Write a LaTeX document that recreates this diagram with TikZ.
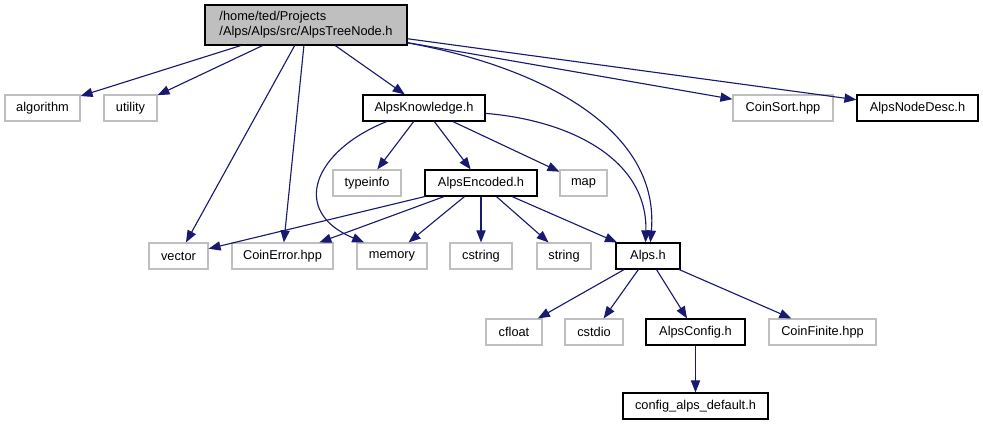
\documentclass[tikz,border=0pt]{standalone}
\usepackage{fontspec}
\setmainfont{Liberation Sans}
\usepackage{tikz}
\usetikzlibrary{arrows.meta}
\definecolor{depblue}{RGB}{25,25,112}
\definecolor{boxgray}{RGB}{191,191,191}
\definecolor{boxink}{RGB}{0,0,0}
\tikzset{
  filebox/.style={
    draw=boxink,
    line width=0.8pt,
    fill=white,
    align=center,
    minimum height=0.65cm,
    inner sep=0pt,
    font=\fontsize{9.1}{10.8}\selectfont,
    text=boxink
  },
  extbox/.style={
    filebox,
    draw=boxgray
  },
  rootbox/.style={
    filebox,
    fill=boxgray,
    align=left,
    minimum height=1cm
  },
  dep/.style={-{Triangle[length=3mm, width=2.3mm]}, line width=0.8pt, draw=depblue}
}

\begin{document}
\begin{tikzpicture}[x=0.025cm,y=-0.025cm]
    \useasboundingbox (0,0) rectangle (983,425);
    \node[rootbox, minimum width=5.05cm] (root) at (306,25) {/home/ted/Projects\\/Alps/Alps/src/AlpsTreeNode.h};
    \node[extbox, minimum width=1.875cm] (algorithm) at (42.5,108) {algorithm};
    \node[extbox, minimum width=1.325cm] (utility) at (130.5,108) {utility};
    \node[filebox, minimum width=3.05cm] (knowledge) at (424,108) {AlpsKnowledge.h};
    \node[extbox, minimum width=2.5cm] (coinsort) at (783,108) {CoinSort.hpp};
    \node[filebox, minimum width=3.025cm] (nodedesc) at (917.5,108) {AlpsNodeDesc.h};
    \node[extbox, minimum width=1.7cm] (typeinfo) at (367,183) {typeinfo};
    \node[filebox, minimum width=2.8cm] (encoded) at (481,183) {AlpsEncoded.h};
    \node[extbox, minimum width=1.175cm] (map) at (583.5,183) {map};
    \node[extbox, minimum width=1.475cm] (vector) at (178.5,256) {vector};
    \node[extbox, minimum width=2.525cm] (coinerror) at (282.5,256) {CoinError.hpp};
    \node[extbox, minimum width=1.75cm] (memory) at (392,256) {memory};
    \node[extbox, minimum width=1.55cm] (cstring) at (481,256) {cstring};
    \node[extbox, minimum width=1.35cm] (string) at (564,256) {string};
    \node[filebox, minimum width=1.6cm] (alps) at (648,256) {Alps.h};
    \node[extbox, minimum width=1.4cm] (cfloat) at (514,332) {cfloat};
    \node[extbox, minimum width=1.45cm] (cstdio) at (594,332) {cstdio};
    \node[filebox, minimum width=2.475cm] (config) at (695.5,332) {AlpsConfig.h};
    \node[extbox, minimum width=2.675cm] (coinfinite) at (822.5,332) {CoinFinite.hpp};
    \node[filebox, minimum width=3.625cm] (configdefault) at (695.5,406) {config\_alps\_default.h};

    \draw[dep] (root) -- (algorithm);
    \draw[dep] (root) -- (utility);
    \draw[dep] (root) -- (vector);
    \draw[dep] (root) -- (coinerror);
    \draw[dep] (root) -- (knowledge);
    \draw[dep] (root) -- (coinsort);
    \draw[dep] (root) -- (nodedesc);
    \draw[dep] (root.-10) .. controls +(123,22) and +(10,-118) .. (alps.80);

    \draw[dep] (knowledge.-160) .. controls +(-73,29) and +(-75,-31) .. (memory.154);
    \draw[dep] (knowledge) -- (typeinfo);
    \draw[dep] (knowledge) -- (encoded);
    \draw[dep] (knowledge) -- (map);
    \draw[dep] (knowledge.-5) .. controls +(85,7) and +(2,-83) .. (alps.100);

    \draw[dep] (encoded) -- (vector);
    \draw[dep] (encoded) -- (coinerror);
    \draw[dep] (encoded) -- (memory);
    \draw[dep] (encoded) -- (cstring);
    \draw[dep] (encoded) -- (string);
    \draw[dep] (encoded) -- (alps);

    \draw[dep] (alps) -- (cfloat);
    \draw[dep] (alps) -- (cstdio);
    \draw[dep] (alps) -- (config);
    \draw[dep] (alps) -- (coinfinite);
    \draw[dep] (config) -- (configdefault);
  \end{tikzpicture}
\end{document}
